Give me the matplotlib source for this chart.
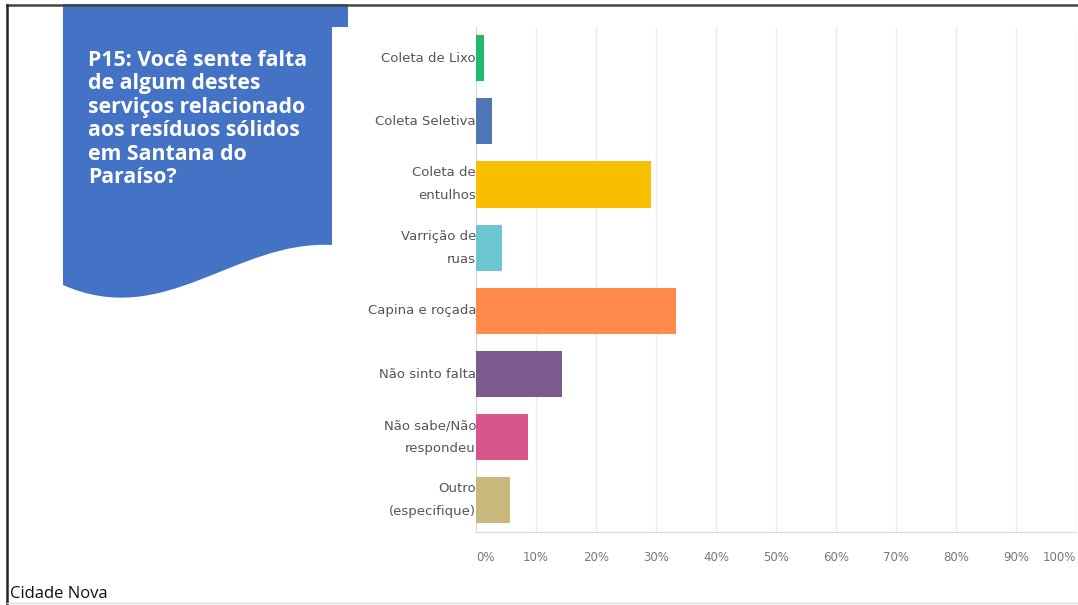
import matplotlib.pyplot as plt
from matplotlib.path import Path
from matplotlib.patches import PathPatch

# Chart data
categories = ["Coleta de Lixo", "Coleta Seletiva", "Coleta de\nentulhos", "Varrição de\nruas",
              "Capina e roçada", "Não sinto falta", "Não sabe/Não\nrespondeu", "Outro\n(especifique)"]
values = [1.3, 2.7, 29.2, 4.3, 33.3, 14.3, 8.7, 5.7]
bar_colors = ["#1fbb6c", "#4f77b6", "#f8be00", "#6cc6cf", "#ff8a4c", "#7b5b8f", "#d6568c", "#c8b87b"]
tick_values = list(range(0, 101, 10))
tick_labels = [f"{v}%" for v in tick_values]

question = ("P15: Você sente falta\nde algum destes\nserviços relacionado\n"
            "aos resíduos sólidos\nem Santana do\nParaíso?")
footer = "Cidade Nova"

W, H = 1078, 605
fig = plt.figure(figsize=(W / 100, H / 100), dpi=100)

# background layer in pixel coordinates
bg = fig.add_axes([0, 0, 1, 1])
bg.set_xlim(0, W)
bg.set_ylim(H, 0)
bg.axis("off")

# frame lines
bg.plot([7, W], [5, 5], color="#444444", lw=1.8)
bg.plot([7, 7], [5, H], color="#222222", lw=1.8)
bg.plot([7, W], [603, 603], color="#dddddd", lw=1)

# blue "document" shape with wavy bottom
verts = [(63, 4), (348, 4), (348, 27), (332, 27), (332, 245),
         (235, 240), (165, 330), (63, 285), (63, 4)]
codes = [Path.MOVETO, Path.LINETO, Path.LINETO, Path.LINETO, Path.LINETO,
         Path.CURVE4, Path.CURVE4, Path.CURVE4, Path.CLOSEPOLY]
bg.add_patch(PathPatch(Path(verts, codes), facecolor="#4472c4", edgecolor="none"))
bg.text(88, 50, question, color="white", fontsize=15.3, fontweight="bold",
        family="Open Sans", va="top", ha="left", linespacing=1.15)
bg.text(10, 594, footer, color="#111111", fontsize=12, family="Open Sans", va="center", ha="left")

# bar chart
ax = fig.add_axes([476 / W, 1 - 532 / H, 600 / W, 505.5 / H])
ypos = list(range(len(categories)))
ax.barh(ypos, values, height=0.73, color=bar_colors, zorder=3)
ax.set_xlim(0, 100)
ax.set_ylim(len(categories) - 0.5, -0.5)
ax.set_yticks(ypos)
ax.set_yticklabels(categories, fontsize=9.5, color="#555555", linespacing=2.0)
for lab in ax.get_yticklabels():
    lab.set_verticalalignment("center")
ax.set_xticks(tick_values)
ax.set_xticklabels(tick_labels, fontsize=8.5, color="#777777")
labels = ax.get_xticklabels()
labels[0].set_horizontalalignment("left")
labels[-1].set_horizontalalignment("right")
ax.tick_params(axis="y", length=0, pad=0)
ax.tick_params(axis="x", length=0, pad=14)
ax.grid(axis="x", color="#ececec", lw=1, zorder=0)
for side in ["top", "right"]:
    ax.spines[side].set_visible(False)
ax.spines["left"].set_color("#d8d8d8")
ax.spines["bottom"].set_color("#d8d8d8")

fig.savefig("out.png", dpi=100)
